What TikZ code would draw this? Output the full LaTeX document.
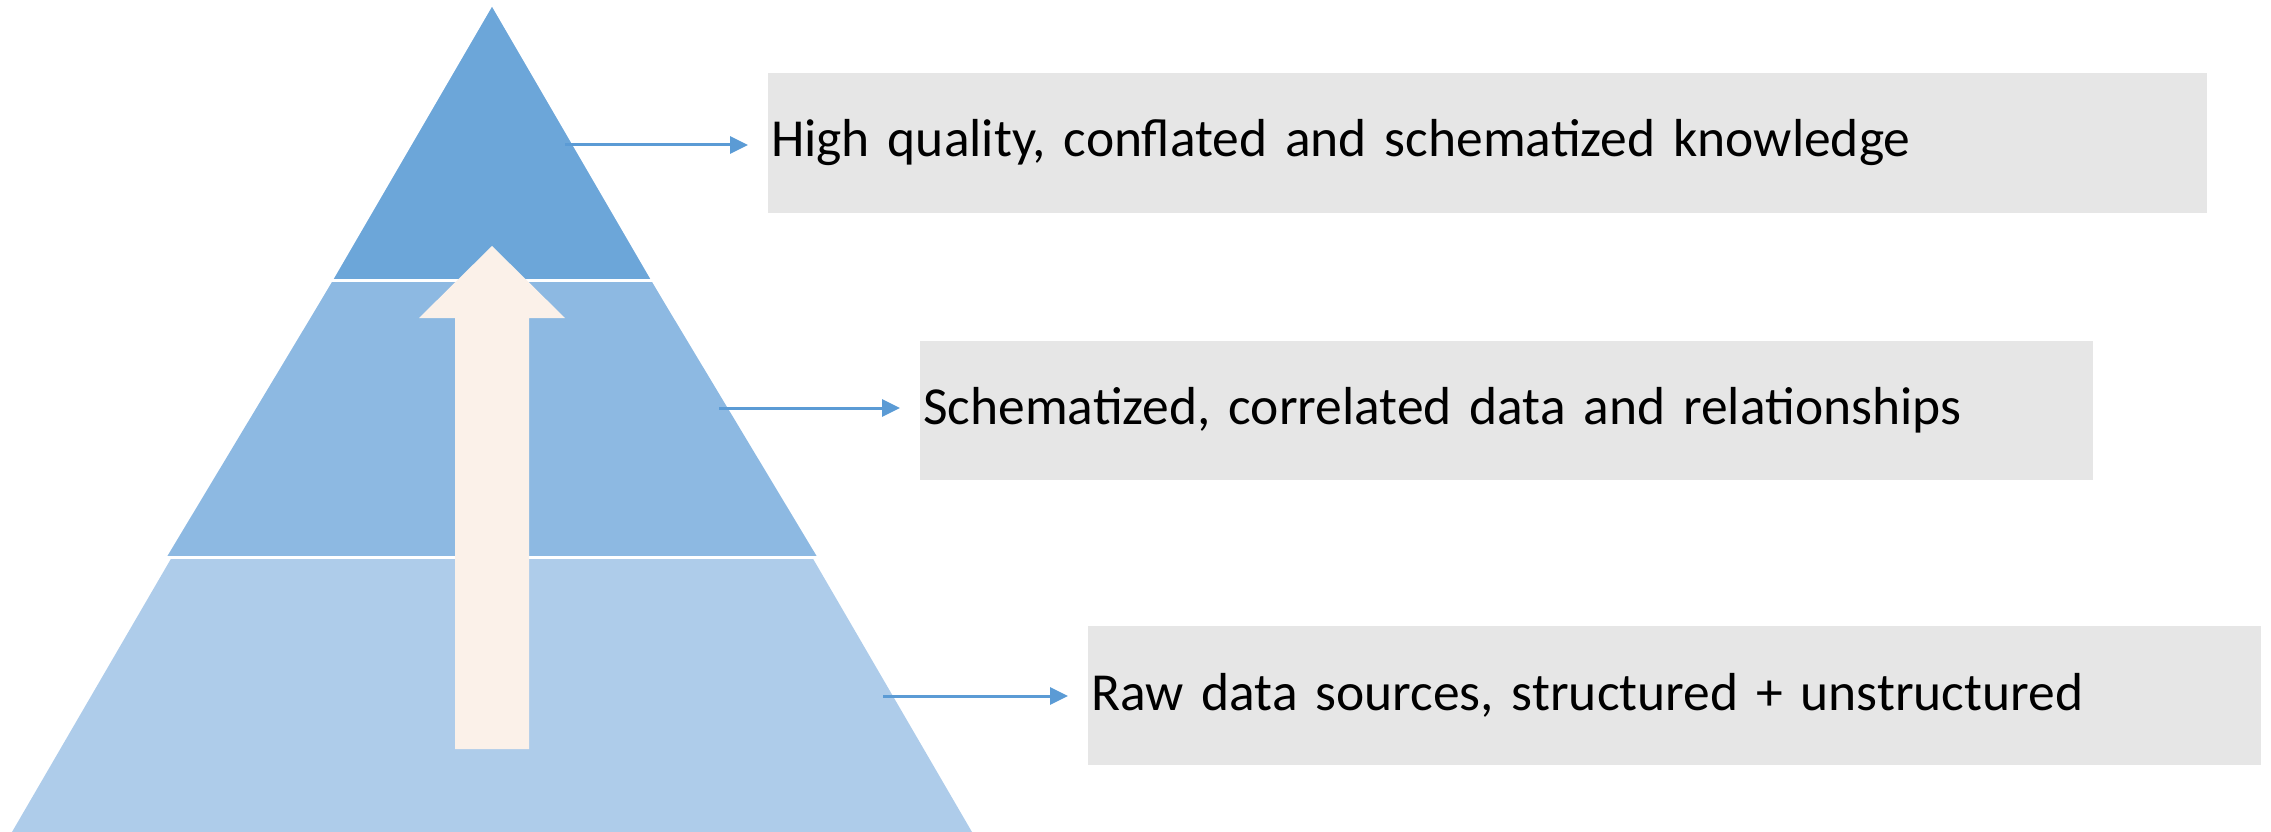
\documentclass[tikz,border=0pt]{standalone}
\usepackage{fontspec}
\setmainfont{Carlito}
\usetikzlibrary{arrows.meta}
\definecolor{topblue}{HTML}{6CA6D9}
\definecolor{midblue}{HTML}{8DB9E2}
\definecolor{lowblue}{HTML}{AECCEA}
\definecolor{upcream}{HTML}{FBF1E9}
\definecolor{boxgray}{HTML}{E6E6E6}
\definecolor{linkblue}{HTML}{5B9BD5}
\tikzset{
  labelbox/.style={fill=boxgray, draw=none, inner xsep=3pt, inner ysep=0pt,
    minimum height=139pt, align=left, anchor=west,
    font=\fontsize{53.5}{62}\selectfont},
  link/.style={linkblue, line width=3pt, -{Triangle[length=18pt,width=17pt]}, shorten >=20pt},
  sep/.style={white, line width=3pt}
}
\begin{document}
\begin{tikzpicture}[x=1pt,y=-1pt]
\useasboundingbox (0,0) rectangle (2271,832);
% pyramid layers
\coordinate (apex) at (492,7);
\coordinate (bl) at (12,832);
\coordinate (br) at (972,832);
\fill[lowblue] (bl) -- (br) -- (apex) -- cycle;
\fill[midblue] (333.3,280) -- (650.7,280) -- (817.2,557) -- (166.8,557) -- cycle;
\fill[topblue] (apex) -- (650.7,280) -- (333.3,280) -- cycle;
\draw[sep] (331,280) -- (653,280);
\draw[sep] (165,557) -- (819,557);
% upward arrow
\fill[upcream] (455,749) -- (455,318) -- (419,318) -- (492,246) -- (565,318) -- (529,318) -- (529,749) -- cycle;
% boxes
\node[labelbox, text width=1433pt] (b1) at (768,143) {High quality, conflated and schematized knowledge};
\node[labelbox, text width=1167pt] (b2) at (920,410.5) {Schematized, correlated data and relationships};
\node[labelbox, text width=1167pt] (b3) at (1088,695.5) {Raw data sources, structured + unstructured};
% connectors
\coordinate (s1) at (565,145);
\coordinate (s2) at (719,408);
\coordinate (s3) at (883,696);
\draw[link] (s1) -- (s1 -| b1.west);
\draw[link] (s2) -- (s2 -| b2.west);
\draw[link] (s3) -- (s3 -| b3.west);
\end{tikzpicture}
\end{document}
